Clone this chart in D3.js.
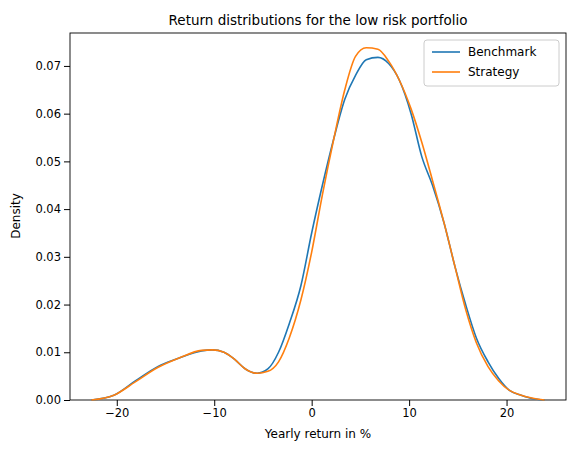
<!DOCTYPE html><html><head><script src="https://cdn.jsdelivr.net/npm/d3@7"></script>
<style>body{margin:0;background:#fff}text{font-family:"DejaVu Sans",sans-serif}</style></head><body><svg id="c" width="576" height="453"></svg>
<script>
const xs=[-22.6,-20.3,-18.1,-15.8,-13.6,-11.3,-10.2,-9.0,-7.9,-6.8,-5.6,-4.5,-3.4,-2.3,-1.1,0,1.1,2.3,3.4,4.5,5.6,6.8,7.9,9.0,10.2,11.3,12.4,13.6,14.7,15.8,16.9,18.1,19.2,20.3,21.5,22.6,23.9];
const bench=[0,0.001,0.004,0.007,0.0088,0.0103,0.0105,0.0100,0.0085,0.0065,0.0056,0.0065,0.010,0.016,0.024,0.035,0.045,0.055,0.063,0.068,0.0713,0.0718,0.0705,0.067,0.060,0.051,0.045,0.037,0.028,0.020,0.013,0.008,0.0045,0.002,0.001,0.0003,0];
const strat=[0,0.001,0.0038,0.0068,0.0088,0.0104,0.0105,0.0100,0.0085,0.0065,0.0056,0.006,0.008,0.013,0.021,0.031,0.043,0.055,0.065,0.072,0.0738,0.0735,0.071,0.067,0.061,0.054,0.046,0.037,0.028,0.019,0.012,0.007,0.004,0.002,0.001,0.0004,0];
const xticks=[-20,-10,0,10,20], yticks=[0,0.01,0.02,0.03,0.04,0.05,0.06,0.07];
const svg=d3.select("#c");
const L=70,R=566,T=33,B=400;
const x=d3.scaleLinear().domain([-24.8,26.1]).range([L,R]);
const y=d3.scaleLinear().domain([0,0.0769]).range([B,T]);
svg.append("g").attr("transform",`translate(0,${B})`).call(d3.axisBottom(x).tickValues(xticks).tickFormat(d=>d<0?"−"+(-d):d).tickSizeOuter(0)).attr("font-size",11.5);
svg.append("g").attr("transform",`translate(${L},0)`).call(d3.axisLeft(y).tickValues(yticks).tickFormat(d3.format(".2f")).tickSizeOuter(0)).attr("font-size",11.5);
svg.selectAll(".domain").remove();
svg.append("rect").attr("x",L).attr("y",T).attr("width",R-L).attr("height",B-T).attr("fill","none").attr("stroke","#000").attr("stroke-width",0.9);
const line=d3.line().x((d,i)=>x(xs[i])).y(d=>y(d)).curve(d3.curveMonotoneX);
svg.append("path").attr("d",line(bench)).attr("fill","none").attr("stroke","#1f77b4").attr("stroke-width",1.6);
svg.append("path").attr("d",line(strat)).attr("fill","none").attr("stroke","#ff7f0e").attr("stroke-width",1.6);
svg.append("text").attr("x",(L+R)/2).attr("y",25).attr("text-anchor","middle").attr("font-size",13.5).text("Return distributions for the low risk portfolio");
svg.append("text").attr("x",(L+R)/2).attr("y",438).attr("text-anchor","middle").attr("font-size",12).text("Yearly return in %");
svg.append("text").attr("transform","translate(20,216) rotate(-90)").attr("text-anchor","middle").attr("font-size",12).text("Density");
const lg=svg.append("g");
lg.append("rect").attr("x",424).attr("y",40).attr("width",135).attr("height",46).attr("rx",3).attr("fill","#fff").attr("stroke","#ccc");
[["Benchmark","#1f77b4"],["Strategy","#ff7f0e"]].forEach((d,i)=>{
 lg.append("line").attr("x1",432).attr("x2",460).attr("y1",52+i*20).attr("y2",52+i*20).attr("stroke",d[1]).attr("stroke-width",1.6);
 lg.append("text").attr("x",468).attr("y",56+i*20).attr("font-size",12).text(d[0]);
});
</script></body></html>
